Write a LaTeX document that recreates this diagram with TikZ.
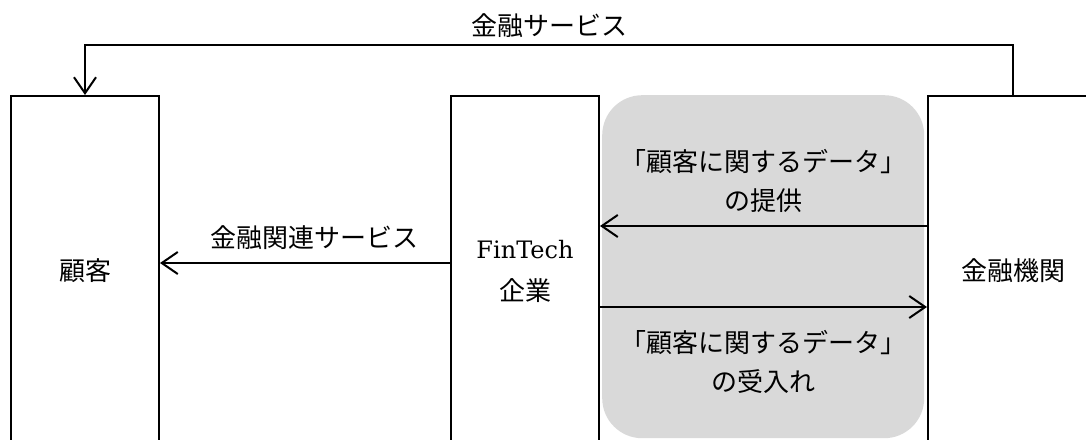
\documentclass[tikz,border=0pt]{standalone}
\usepackage{fontspec}
\newfontfamily\jp{Noto Sans CJK JP}
\newfontfamily\lat{DejaVu Serif}
\usetikzlibrary{arrows.meta}
\definecolor{databg}{HTML}{D9D9D9}
\begin{document}
\begin{tikzpicture}[x=1pt,y=-1pt,
  every node/.style={font=\fontsize{26}{39}\selectfont},
  box/.style={draw, line width=2pt, minimum width=148pt, minimum height=350pt, inner sep=0pt, anchor=north west},
  arr/.style={line width=2pt, -{Straight Barb[length=16pt,width=22pt]}},
  lbl/.style={align=center, inner sep=2pt}]
\useasboundingbox (0,0) rectangle (1086,439);
\clip (0,0) rectangle (1086,439);
\node[fill=databg, rounded corners=40pt, minimum width=322pt, minimum height=343pt, inner sep=0pt, anchor=north west] (data) at (602,95) {};
\node[box] (cust) at (10,95) {\jp 顧客};
\node[box, align=center, font=\fontsize{26}{42}\selectfont] (fin) at (450,95) {{\lat\fontsize{24}{42}\selectfont FinTech}\\{\jp 企業}};
\node[box, minimum width=170pt] (bank) at (927,95) {\jp 金融機関};
\coordinate (top) at (0,45);
\coordinate (yl) at (0,263);
\coordinate (yu) at (0,226);
\coordinate (yd) at (0,307);
\draw[arr] (bank.north) -- (bank.north |- top) -- node[above=3pt]{\jp 金融サービス} (cust.north |- top) -- (cust.north);
\draw[arr] (fin.west |- yl) -- node[above=9pt, xshift=9pt]{\jp 金融関連サービス} (cust.east |- yl);
\draw[arr] (bank.west |- yu) -- (fin.east |- yu);
\draw[arr] (fin.east |- yd) -- (bank.west |- yd);
\node[lbl] (lab1) at (763,181) {\jp 「顧客に関するデータ」\\\jp の提供};
\node[lbl] (lab2) at (763,362) {\jp 「顧客に関するデータ」\\\jp の受入れ};
\end{tikzpicture}
\end{document}
